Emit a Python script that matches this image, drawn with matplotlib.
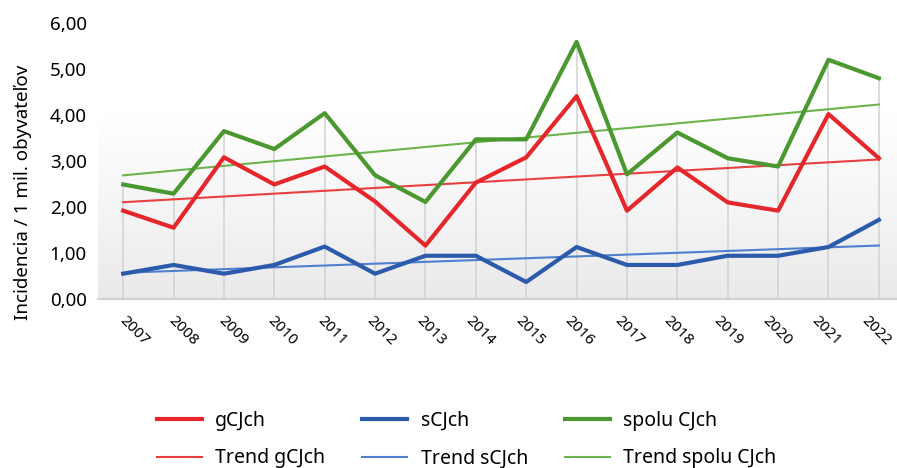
import numpy as np
import matplotlib.pyplot as plt
import matplotlib.transforms as mtransforms
from matplotlib.colors import LinearSegmentedColormap

plt.rcParams['font.family'] = ['Noto Sans', 'DejaVu Sans']

years = list(range(2007, 2023))
gcjch = [1.92, 1.55, 3.08, 2.49, 2.88, 2.12, 1.16, 2.53,
         3.08, 4.41, 1.92, 2.86, 2.10, 1.92, 4.02, 3.06]
scjch = [0.55, 0.74, 0.55, 0.74, 1.14, 0.55, 0.94, 0.94,
         0.37, 1.13, 0.74, 0.74, 0.94, 0.94, 1.13, 1.72]
spolu = [2.49, 2.29, 3.65, 3.26, 4.04, 2.69, 2.11, 3.47,
         3.47, 5.59, 2.71, 3.62, 3.06, 2.88, 5.20, 4.80]
ytick_labels = ['0,00', '1,00', '2,00', '3,00', '4,00', '5,00', '6,00']

red, blue, green = '#e5262b', '#2d5bac', '#4a982f'
red_t, blue_t, green_t = '#e84040', '#4f7fce', '#6cb34e'

x = np.arange(len(years))

fig = plt.figure(figsize=(8.97, 4.68), dpi=100)
ax = fig.add_axes([98 / 897, 1 - 299 / 468, 799 / 897, (299 - 23) / 468])
ax.set_xlim(-0.5, 15.36)
ax.set_ylim(0, 6)

# pozadie - jemny prechod do sivej
grad = np.linspace(0, 1, 256).reshape(-1, 1)
cmap = LinearSegmentedColormap.from_list('bg', ['#eaeaea', '#f5f5f5', '#ffffff', '#ffffff'])
ax.imshow(grad, extent=(-0.5, 15.36, 0, 6), origin='lower', aspect='auto',
          cmap=cmap, zorder=0)

# zvisle ciary od najvyssej krivky
ax.vlines(x, 0, spolu, colors='#d4d4d4', lw=1.2, zorder=1)

ax.plot(x, gcjch, color=red, lw=3, label='gCJch', zorder=4)
ax.plot(x, scjch, color=blue, lw=3, label='sCJch', zorder=4)
ax.plot(x, spolu, color=green, lw=3, label='spolu CJch', zorder=4)

for data, col, name in [(gcjch, red_t, 'Trend gCJch'),
                        (scjch, blue_t, 'Trend sCJch'),
                        (spolu, green_t, 'Trend spolu CJch')]:
    k, q = np.polyfit(x, data, 1)
    ax.plot(x, k * x + q, color=col, lw=1.5, label=name, zorder=3)

for s in ['top', 'right', 'left']:
    ax.spines[s].set_visible(False)
ax.spines['bottom'].set_color('#d0d0d0')
ax.spines['bottom'].set_linewidth(1.5)

ax.set_yticks(range(7))
ax.set_yticklabels(ytick_labels, fontsize=13.5)
ax.set_xticks(x)
ax.set_xticklabels(years, fontsize=11, rotation=-45, ha='left', va='top')
ax.tick_params(axis='both', length=0)
ax.tick_params(axis='y', pad=8)
ax.tick_params(axis='x', pad=10)
# popisky roka su v originali trochu posunute dolava
for i, lab in enumerate(ax.get_xticklabels()):
    shift = mtransforms.ScaledTranslation(-(0.07 + 0.009 * i), 0, fig.dpi_scale_trans)
    lab.set_transform(lab.get_transform() + shift)

ax.set_ylabel('Incidencia / 1 mil. obyvateľov', fontsize=13.5)
ax.yaxis.set_label_coords(-0.083, 0.388)

h, l = ax.get_legend_handles_labels()
order = [0, 3, 1, 4, 2, 5]
fig.legend([h[i] for i in order], [l[i] for i in order], ncol=3,
           loc='upper left', bbox_to_anchor=(157 / 897, 1 - 411 / 468),
           frameon=False, fontsize=14, handlelength=2.3, handletextpad=0.7,
           columnspacing=1.9, labelspacing=0.9, borderpad=0, borderaxespad=0)

plt.savefig('out.png', dpi=100)
